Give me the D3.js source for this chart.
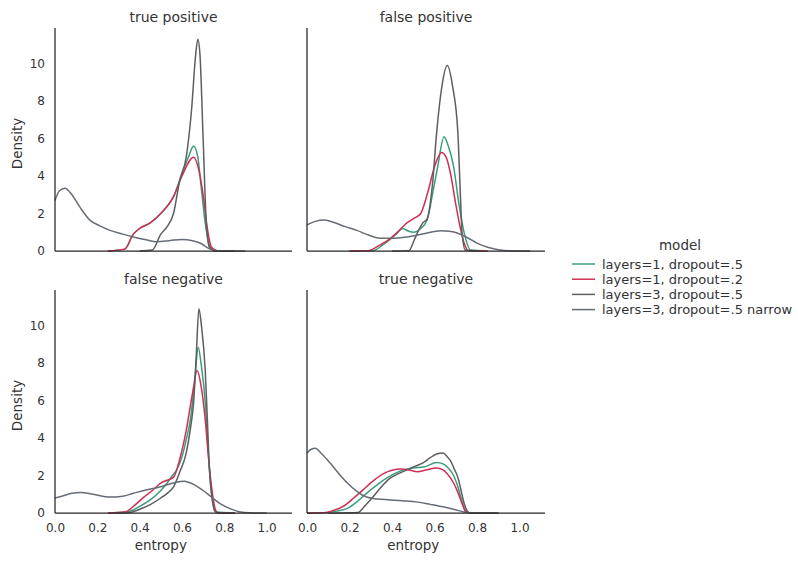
<!DOCTYPE html>
<html><head><meta charset="utf-8">
<script src="https://cdn.jsdelivr.net/npm/d3@7"></script>
<style>body{margin:0;background:#fff}svg{display:block}</style>
</head><body>
<script>
// ---- data ----
const panels = ["true positive", "false positive", "false negative", "true negative"];
const models = ["layers=1, dropout=.5", "layers=1, dropout=.2", "layers=3, dropout=.5", "layers=3, dropout=.5 narrow"];
const colors = ["#3a9c7c", "#cf2f52", "#5e5e5e", "#666c76"];
const xTicks = [0.0, 0.2, 0.4, 0.6, 0.8, 1.0];
const yTicks = [0, 2, 4, 6, 8, 10];

// true positive
const tp_l1d5 = [[0.25,0],[0.33,0.1],[0.37,0.9],[0.40,1.2],[0.45,1.5],[0.50,2.0],[0.56,2.9],[0.60,4.1],[0.63,5.0],[0.655,5.6],[0.675,5.0],[0.69,3.5],[0.71,1.5],[0.73,0.3],[0.76,0],[0.85,0]];
const tp_l1d2 = [[0.25,0],[0.33,0.1],[0.37,0.9],[0.40,1.2],[0.45,1.5],[0.50,2.0],[0.56,2.9],[0.60,4.0],[0.655,5.0],[0.68,4.3],[0.70,3.0],[0.72,1.2],[0.74,0.2],[0.77,0],[0.85,0]];
const tp_l3d5 = [[0.4,0],[0.46,0.05],[0.50,0.9],[0.53,1.3],[0.56,2.0],[0.59,3.8],[0.62,5.0],[0.645,7.5],[0.665,10.5],[0.675,11.3],[0.685,10.5],[0.70,6.0],[0.715,1.5],[0.73,0.2],[0.76,0],[0.85,0]];
const tp_l3n = [[0,2.7],[0.02,3.2],[0.047,3.35],[0.08,3.0],[0.12,2.3],[0.165,1.65],[0.21,1.35],[0.26,1.1],[0.32,0.9],[0.37,0.75],[0.43,0.6],[0.48,0.5],[0.54,0.55],[0.6,0.62],[0.65,0.55],[0.69,0.4],[0.73,0.12],[0.78,0],[0.9,0]];
// false positive
const fp_l1d5 = [[0.2,0],[0.31,0.02],[0.36,0.35],[0.39,0.6],[0.42,0.9],[0.45,1.2],[0.48,1.05],[0.50,1.0],[0.535,1.2],[0.565,1.65],[0.595,3.3],[0.615,4.5],[0.645,6.1],[0.665,5.6],[0.69,4.5],[0.715,2.5],[0.74,0.95],[0.77,0.05],[0.85,0]];
const fp_l1d2 = [[0.2,0],[0.29,0.02],[0.34,0.3],[0.39,0.65],[0.43,1.05],[0.47,1.5],[0.505,1.75],[0.535,2.0],[0.57,3.2],[0.60,4.5],[0.633,5.25],[0.655,5.0],[0.675,4.15],[0.70,2.5],[0.72,1.3],[0.74,0.4],[0.76,0.02],[0.85,0]];
const fp_l3d5 = [[0.4,0],[0.48,0.02],[0.505,0.6],[0.525,1.1],[0.545,1.5],[0.565,1.7],[0.59,3.5],[0.61,6.3],[0.635,8.8],[0.66,9.9],[0.685,8.8],[0.71,6.3],[0.72,3.5],[0.73,0.95],[0.745,0.05],[0.8,0]];
const fp_l3n = [[0,1.39],[0.04,1.58],[0.077,1.65],[0.12,1.55],[0.18,1.3],[0.235,1.1],[0.29,0.85],[0.345,0.68],[0.40,0.68],[0.47,0.75],[0.55,0.92],[0.63,1.08],[0.67,1.05],[0.71,0.95],[0.76,0.68],[0.8,0.42],[0.85,0.2],[0.9,0.07],[0.95,0.01],[1.05,0]];
// false negative
const fn_l1d5 = [[0.25,0],[0.34,0.05],[0.40,0.35],[0.45,0.7],[0.50,1.2],[0.53,1.6],[0.555,2.0],[0.575,2.3],[0.60,3.0],[0.62,3.9],[0.64,5.0],[0.66,7.0],[0.677,8.85],[0.69,8.0],[0.71,5.9],[0.72,4.0],[0.73,2.3],[0.745,0.6],[0.76,0.05],[0.85,0]];
const fn_l1d2 = [[0.25,0],[0.33,0.05],[0.38,0.45],[0.42,0.85],[0.46,1.2],[0.50,1.6],[0.53,1.75],[0.56,1.9],[0.59,2.9],[0.62,4.4],[0.65,6.4],[0.672,7.6],[0.69,6.8],[0.71,5.0],[0.725,3.0],[0.74,1.4],[0.755,0.3],[0.77,0],[0.85,0]];
const fn_l3d5 = [[0.28,0],[0.355,0.03],[0.40,0.2],[0.45,0.45],[0.50,0.8],[0.53,1.05],[0.56,1.4],[0.59,2.2],[0.62,3.2],[0.64,4.5],[0.655,5.9],[0.668,8.5],[0.68,10.9],[0.692,10.0],[0.71,7.6],[0.72,5.0],[0.73,2.3],[0.745,0.6],[0.755,0.1],[0.78,0],[0.85,0]];
const fn_l3n = [[0,0.8],[0.04,0.92],[0.08,1.05],[0.12,1.1],[0.18,1.0],[0.26,0.85],[0.32,0.9],[0.37,1.05],[0.42,1.2],[0.5,1.4],[0.56,1.6],[0.61,1.7],[0.66,1.5],[0.7,1.2],[0.74,0.85],[0.78,0.5],[0.83,0.22],[0.87,0.07],[0.92,0.01],[1.0,0]];
// true negative
const tn_l1d5 = [[0.0,0],[0.09,0.02],[0.14,0.1],[0.19,0.25],[0.235,0.6],[0.28,1.05],[0.33,1.5],[0.38,1.9],[0.455,2.3],[0.50,2.4],[0.55,2.45],[0.61,2.7],[0.64,2.62],[0.66,2.45],[0.69,2.0],[0.71,1.4],[0.73,0.6],[0.745,0.15],[0.77,0],[0.9,0]];
const tn_l1d2 = [[0.0,0],[0.08,0.02],[0.12,0.12],[0.17,0.35],[0.22,0.8],[0.265,1.25],[0.31,1.7],[0.36,2.1],[0.44,2.35],[0.48,2.3],[0.52,2.2],[0.56,2.3],[0.61,2.4],[0.64,2.3],[0.66,2.1],[0.69,1.6],[0.71,1.1],[0.73,0.5],[0.745,0.1],[0.77,0],[0.9,0]];
const tn_l3d5 = [[0.1,0],[0.24,0.03],[0.27,0.35],[0.31,0.85],[0.35,1.4],[0.39,1.85],[0.43,2.1],[0.47,2.3],[0.51,2.5],[0.55,2.7],[0.58,2.95],[0.61,3.15],[0.64,3.2],[0.66,3.0],[0.675,2.8],[0.695,2.3],[0.71,1.9],[0.725,1.2],[0.74,0.5],[0.755,0.1],[0.77,0],[0.9,0]];
const tn_l3n = [[0,3.2],[0.02,3.4],[0.038,3.45],[0.07,3.15],[0.11,2.65],[0.15,2.1],[0.19,1.6],[0.235,1.15],[0.28,0.85],[0.33,0.75],[0.39,0.7],[0.45,0.65],[0.52,0.58],[0.58,0.46],[0.64,0.33],[0.69,0.2],[0.74,0.05],[0.78,0],[0.9,0]];

const panelSeries = [
  [tp_l1d5, tp_l1d2, tp_l3d5, tp_l3n],
  [fp_l1d5, fp_l1d2, fp_l3d5, fp_l3n],
  [fn_l1d5, fn_l1d2, fn_l3d5, fn_l3n],
  [tn_l1d5, tn_l1d2, tn_l3d5, tn_l3n]
];

// ---- layout ----
const W = 798, H = 561;
const FONT = "'DejaVu Sans', sans-serif";
const svg = d3.select("body").append("svg").attr("width", W).attr("height", H)
  .style("font-family", FONT);

const colX = [[55, 292], [307, 545]];
const rowY = [[251, 28], [513, 290]];
const xDomain = [0, 1.12];
const yDomain = [0, 11.9];

panels.forEach((title, i) => {
  const c = i % 2, r = Math.floor(i / 2);
  const x = d3.scaleLinear().domain(xDomain).range(colX[c]);
  const y = d3.scaleLinear().domain(yDomain).range(rowY[r]);
  const g = svg.append("g");

  const line = d3.line().x(d => x(d[0])).y(d => y(d[1])).curve(d3.curveMonotoneX);
  panelSeries[i].forEach((s, k) => {
    g.append("path").datum(s).attr("d", line)
      .attr("fill", "none").attr("stroke", colors[k]).attr("stroke-width", 1.5)
      .attr("stroke-linejoin", "round");
  });

  // spines
  g.append("line").attr("x1", colX[c][0]).attr("x2", colX[c][0])
    .attr("y1", rowY[r][0]).attr("y2", rowY[r][1]).attr("stroke", "#262626").attr("stroke-width", 1.25);
  g.append("line").attr("x1", colX[c][0]).attr("x2", colX[c][1])
    .attr("y1", rowY[r][0]).attr("y2", rowY[r][0]).attr("stroke", "#262626").attr("stroke-width", 1.25);

  if (c === 0) {
    const ya = d3.axisLeft(y).tickValues(yTicks).tickSize(0).tickPadding(10).tickFormat(d3.format("d"));
    const ag = g.append("g").attr("transform", `translate(${colX[c][0]},0)`).call(ya);
    ag.select(".domain").remove();
    ag.selectAll("text").attr("font-size", 12).attr("fill", "#333").style("font-family", FONT);
    g.append("text").attr("transform", `translate(22,${(rowY[r][0] + rowY[r][1]) / 2 + 4}) rotate(-90)`)
      .attr("text-anchor", "middle").attr("font-size", 13.5).attr("fill", "#333").text("Density");
  }
  if (r === 1) {
    const xa = d3.axisBottom(x).tickValues(xTicks).tickSize(0).tickPadding(10).tickFormat(d3.format(".1f"));
    const ag = g.append("g").attr("transform", `translate(0,${rowY[r][0]})`).call(xa);
    ag.select(".domain").remove();
    ag.selectAll("text").attr("font-size", 12).attr("fill", "#333").style("font-family", FONT);
    g.append("text").attr("x", x(0.5)).attr("y", rowY[r][0] + 37)
      .attr("text-anchor", "middle").attr("font-size", 13.5).attr("fill", "#333").text("entropy");
  }
  g.append("text").attr("x", (colX[c][0] + colX[c][1]) / 2).attr("y", rowY[r][1] - 6)
    .attr("text-anchor", "middle").attr("font-size", 14).attr("fill", "#333").text(title);
});

// ---- legend ----
const lg = svg.append("g");
lg.append("text").attr("x", 680).attr("y", 250).attr("text-anchor", "middle")
  .attr("font-size", 13.5).attr("fill", "#333").text("model");
models.forEach((m, k) => {
  const yy = 264 + k * 15.2;
  lg.append("line").attr("x1", 572).attr("x2", 595).attr("y1", yy).attr("y2", yy)
    .attr("stroke", colors[k]).attr("stroke-width", 1.5);
  lg.append("text").attr("x", 602).attr("y", yy + 4.5).attr("font-size", 13)
    .attr("fill", "#333").text(m);
});
</script>
</body></html>
